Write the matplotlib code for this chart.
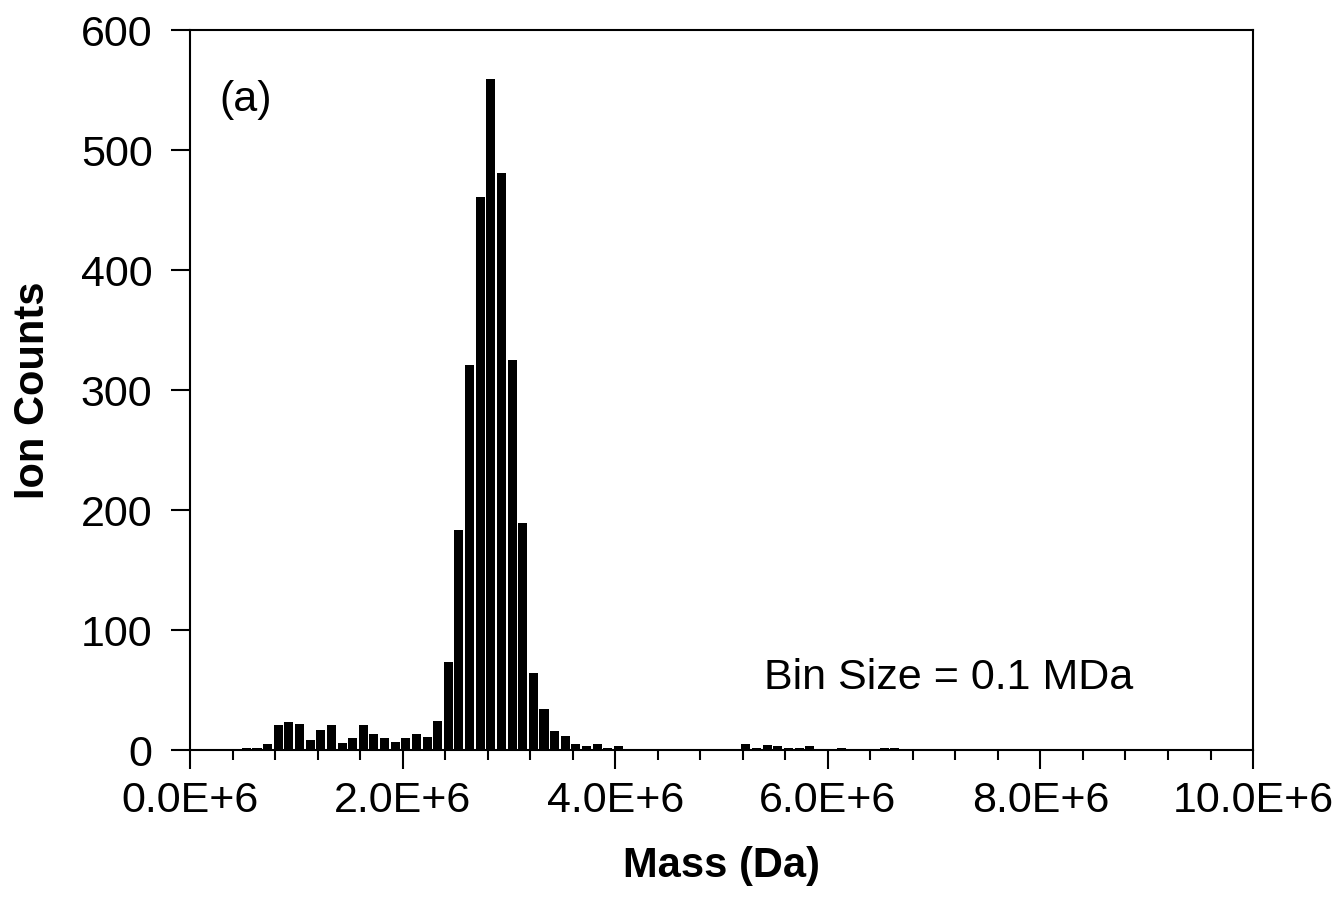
import numpy as np
import matplotlib
matplotlib.use('Agg')
import matplotlib.pyplot as plt
from matplotlib.ticker import MultipleLocator, FuncFormatter

# left edge of each 0.1 MDa bin, in MDa
bin_start = np.round(np.arange(0, 10.0, 0.1), 1)

# ion counts per bin
counts = [
    0, 0, 0, 0, 1, 2, 2, 5, 21, 23,
    22, 8, 17, 21, 6, 10, 21, 13, 10, 7,
    10, 13, 11, 24, 73, 183, 321, 461, 559, 481,
    325, 189, 64, 34, 16, 12, 5, 3, 5, 2,
    3, 1, 1, 1, 1, 0, 1, 1, 1, 1,
    1, 1, 5, 2, 4, 3, 2, 2, 3, 1,
    1, 2, 1, 0, 1, 2, 2, 1, 1, 1,
    1, 0, 0, 0, 0, 0, 0, 0, 0, 1,
    1, 0, 0, 1, 0, 0, 0, 0, 1, 1,
    0, 0, 0, 1, 1, 0, 0, 0, 0, 0,
]

x_ticks = [0, 2, 4, 6, 8, 10]
y_ticks = [0, 100, 200, 300, 400, 500, 600]

plt.rcParams['font.family'] = ['Liberation Sans', 'DejaVu Sans']

fig = plt.figure(figsize=(13.41, 9.13), dpi=100)
ax = fig.add_axes([0.1417, 0.1785, 0.7927, 0.7885])

ax.bar((bin_start + 0.03) * 1e6, counts, width=0.085e6, color='black',
       linewidth=0)

ax.set_xlim(0, 10e6)
ax.set_ylim(0, 600)
ax.set_xticks([t * 1e6 for t in x_ticks])
ax.xaxis.set_minor_locator(MultipleLocator(0.4e6))
ax.xaxis.set_major_formatter(FuncFormatter(lambda v, p: f'{v / 1e6:.1f}E+6'))
ax.set_yticks(y_ticks)

ax.tick_params(axis='both', which='major', direction='out', length=14,
               width=1.5, labelsize=31, color='black')
ax.tick_params(axis='x', which='minor', direction='out', length=7, width=1.5)
ax.tick_params(axis='x', which='major', pad=8)
ax.tick_params(axis='y', which='major', pad=13)

for s in ax.spines.values():
    s.set_linewidth(1.5)

ax.set_xlabel('Mass (Da)', fontsize=30, fontweight='bold', labelpad=18)
ax.set_ylabel('Ion Counts', fontsize=30, fontweight='bold', labelpad=20)

ax.text(0.028, 0.903, '(a)', transform=ax.transAxes, fontsize=31, va='center')
ax.text(0.54, 0.10, 'Bin Size = 0.1 MDa', transform=ax.transAxes,
        fontsize=31, va='center')

fig.savefig('out.png', dpi=100)
